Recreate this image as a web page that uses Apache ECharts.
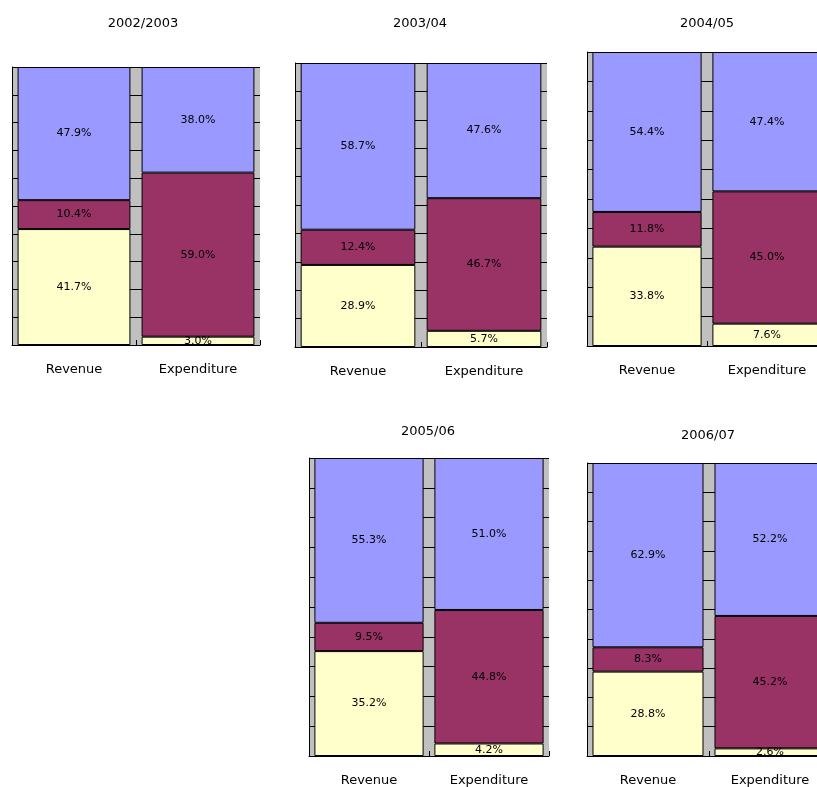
<!DOCTYPE html>
<html>
<head>
<meta charset="utf-8">
<script src="https://cdn.jsdelivr.net/npm/echarts@6/dist/echarts.min.js"></script>
<style>
html,body{margin:0;padding:0;background:#fff;overflow:hidden;}
#c{width:840px;height:787px;}
</style>
</head>
<body>
<div id="c"></div>
<script>
// ---- data ----
const years = ['2002/2003', '2003/04', '2004/05', '2005/06', '2006/07'];
const categories = ['Revenue', 'Expenditure'];
// per year: [Revenue, Expenditure]
const lowerShare  = [[41.7, 3.0], [28.9, 5.7], [33.8, 7.6], [35.2, 4.2], [28.8, 2.6]];
const middleShare = [[10.4, 59.0], [12.4, 46.7], [11.8, 45.0], [9.5, 44.8], [8.3, 45.2]];
const upperShare  = [[47.9, 38.0], [58.7, 47.6], [54.4, 47.4], [55.3, 51.0], [62.9, 52.2]];
const yTicks = [0, 10, 20, 30, 40, 50, 60, 70, 80, 90, 100];

// ---- layout ----
const panels = [
  {left: 12,  top: 67,  width: 248, height: 278, titleX: 143, titleY: 17},
  {left: 295, top: 63,  width: 252, height: 284, titleX: 420, titleY: 17},
  {left: 587, top: 52,  width: 240, height: 294, titleX: 707, titleY: 17},
  {left: 309, top: 458, width: 240, height: 299, titleX: 428, titleY: 425},
  {left: 587, top: 463, width: 244, height: 296, titleX: 708, titleY: 429}
];
const colors = ['#FFFFCC', '#993366', '#9999FF'];
const FONT = 'DejaVu Sans';

const option = {
  animation: false,
  backgroundColor: '#ffffff',
  title: [], grid: [], xAxis: [], yAxis: [], series: []
};

panels.forEach((p, i) => {
  option.title.push({
    text: years[i], left: p.titleX, top: p.titleY, textAlign: 'center', padding: 0,
    textStyle: {fontFamily: FONT, fontSize: 13, fontWeight: 'normal', color: '#000'}
  });
  option.grid.push({
    left: p.left, top: p.top, width: p.width, height: p.height,
    show: true, backgroundColor: '#C0C0C0', borderWidth: 0, containLabel: false
  });
  option.xAxis.push({
    type: 'category', gridIndex: i, data: categories,
    axisLine: {show: true, lineStyle: {color: '#000', width: 1}},
    axisTick: {show: true, inside: true, length: 5, lineStyle: {color: '#000'}},
    axisLabel: {fontFamily: FONT, fontSize: 13, color: '#000', margin: 18},
    splitLine: {show: false}
  });
  option.yAxis.push({
    type: 'value', gridIndex: i, min: yTicks[0], max: yTicks[yTicks.length - 1],
    interval: yTicks[1] - yTicks[0],
    axisLine: {show: true, lineStyle: {color: '#000', width: 1}},
    axisTick: {show: false},
    axisLabel: {show: false},
    splitLine: {show: true, lineStyle: {color: '#000', width: 1}}
  });
  const segs = [lowerShare[i], middleShare[i], upperShare[i]];
  segs.forEach((vals, k) => {
    option.series.push({
      type: 'bar', xAxisIndex: i, yAxisIndex: i, stack: 'p' + i,
      name: ['Lower', 'Middle', 'Upper'][k],
      data: vals, barCategoryGap: '9%',
      itemStyle: {color: colors[k], borderColor: '#000', borderWidth: 1},
      label: {
        show: true, position: 'inside', color: '#000',
        fontFamily: FONT, fontSize: 11,
        formatter: (d) => d.value.toFixed(1) + '%'
      }
    });
  });
});

const chart = echarts.init(document.getElementById('c'), null, {renderer: 'canvas'});
chart.setOption(option);
</script>
</body>
</html>
